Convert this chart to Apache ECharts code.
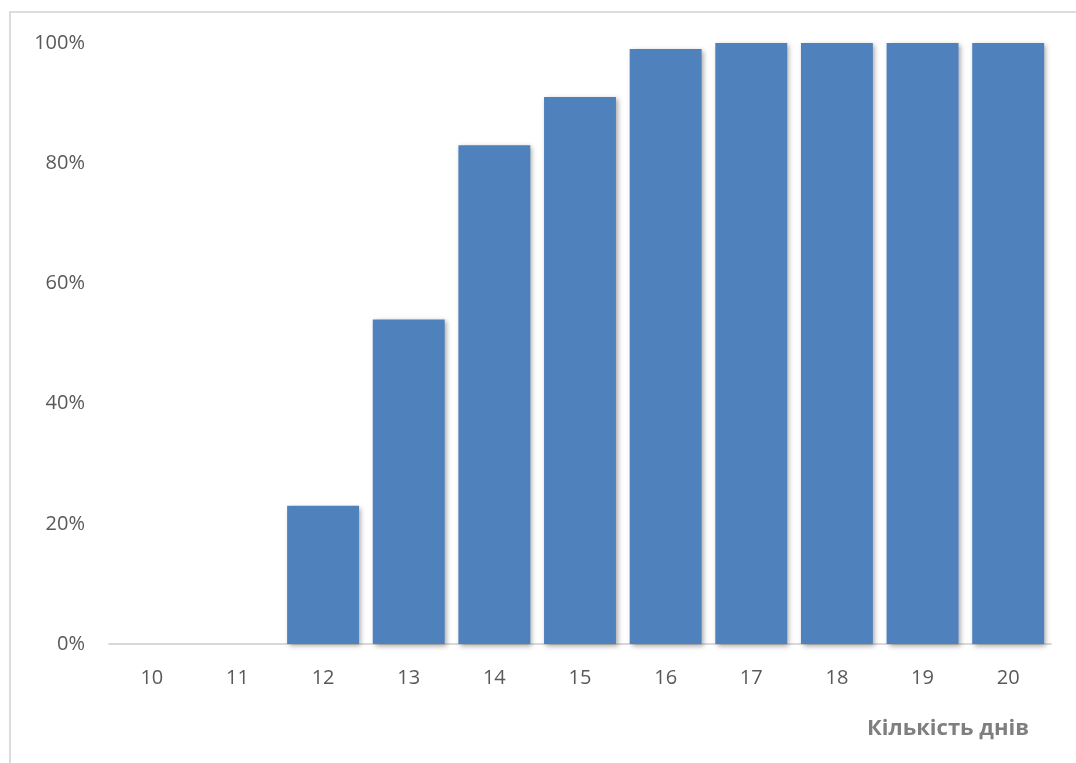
<!DOCTYPE html>
<html>
<head>
<meta charset="utf-8">
<script src="https://cdn.jsdelivr.net/npm/echarts@6/dist/echarts.min.js"></script>
<style>
  html, body { margin: 0; padding: 0; background: #fff; overflow: hidden; }
  #frame { position: absolute; left: 9px; top: 11px; width: 1200px; height: 900px;
           border-left: 2px solid #dcdcdc; border-top: 2px solid #dcdcdc; }
  #chart { position: absolute; left: 0; top: 0; width: 1076px; height: 763px; }
</style>
</head>
<body>
<div id="frame"></div>
<div id="chart"></div>
<script>
// Days on the horizontal axis, cumulative share (%) on the vertical axis
const days = ['10', '11', '12', '13', '14', '15', '16', '17', '18', '19', '20'];
const shares = [0, 0, 23, 54, 83, 91, 99, 100, 100, 100, 100];
const xTitle = 'Кількість днів';

const chart = echarts.init(document.getElementById('chart'), null, { renderer: 'canvas' });
chart.setOption({
  animation: false,
  grid: { left: 109, right: 25, top: 43, bottom: 119, containLabel: false },
  xAxis: {
    type: 'category',
    data: days,
    axisLine: { show: true, lineStyle: { color: '#d9d9d9', width: 2 } },
    axisTick: { show: false },
    axisLabel: { color: '#595959', fontSize: 20, fontFamily: 'Open Sans', margin: 24 }
  },
  yAxis: {
    type: 'value',
    min: 0, max: 100, interval: 20,
    axisLine: { show: false },
    axisTick: { show: false },
    splitLine: { show: false },
    axisLabel: { color: '#595959', fontSize: 20, fontFamily: 'Open Sans', margin: 24,
                 formatter: v => v + '%' }
  },
  graphic: [{
    type: 'text', right: 47, top: 718,
    style: { text: xTitle, fill: '#7f7f7f', font: 'bold 22px "Open Sans"' }
  }],
  series: [{
    type: 'bar',
    data: shares,
    barCategoryGap: '16%',
    itemStyle: {
      color: '#4f81bd',
      shadowColor: 'rgba(0,0,0,0.35)',
      shadowBlur: 5,
      shadowOffsetX: 2,
      shadowOffsetY: 2
    }
  }]
});
</script>
</body>
</html>
